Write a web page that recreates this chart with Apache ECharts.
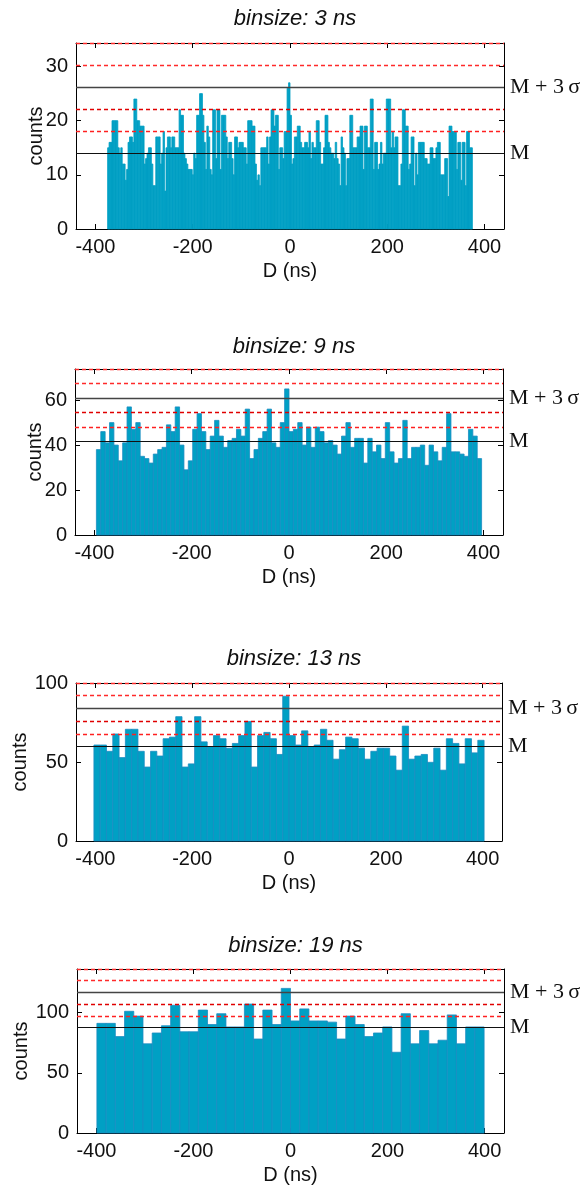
<!DOCTYPE html>
<html>
<head>
<meta charset="utf-8">
<script src="https://cdn.jsdelivr.net/npm/echarts@6/dist/echarts.min.js"></script>
<style>
  html, body { margin: 0; padding: 0; background: #fff; }
  #chart { width: 586px; height: 1187px; }
</style>
</head>
<body>
<div id="chart"></div>
<script>
// ---------------- data ----------------
const titles = ['binsize: 3 ns', 'binsize: 9 ns', 'binsize: 13 ns', 'binsize: 19 ns'];
const binSize = [3, 9, 13, 19];
const binStart = [-375, -396, -403, -399];

const counts3ns = [
  15,16,16,20,20,20,20,15,14,15,12,12,9,11,16,17,17,16,24,24,
  20,20,19,19,19,12,13,14,15,15,12,8,8,17,17,17,12,14,18,7,
  15,17,17,15,17,17,15,15,15,22,21,21,14,13,12,11,11,11,10,14,
  13,21,21,25,25,21,16,11,19,17,11,10,22,22,13,22,22,11,21,21,
  21,17,13,16,16,
  13,10,17,17,15,16,16,16,15,15,12,20,20,20,19,19,12,9,10,8,
  15,15,15,15,17,12,17,22,22,19,21,21,11,15,15,13,18,18,26,27,
  21,12,13,17,17,19,19,16,15,15,16,16,15,18,13,16,15,15,20,20,
  16,12,12,15,21,21,16,15,14,14,13,16,13,12,8,17,15,14,8,13,
  13,21,21,15,15,
  15,17,17,19,19,11,19,19,15,15,24,24,11,16,16,11,12,16,12,14,
  14,24,24,24,15,18,15,17,17,8,8,12,22,22,19,19,11,12,17,17,
  8,14,10,16,16,16,16,13,13,12,12,15,15,13,13,15,16,16,10,10,
  10,13,13,6,19,19,18,18,18,11,16,16,9,16,16,8,18,18,15,15
];
const counts9ns = [
  38,46,41,50,40,33,41,57,47,50,35,34,32,36,38,39,49,46,57,40,
  29,33,47,54,46,38,44,51,44,39,42,43,47,44,56,34,38,43,46,56,
  41,39,50,65,
  46,47,50,40,48,39,48,46,41,42,40,36,44,50,39,43,43,32,43,37,
  40,34,50,37,32,34,51,34,39,39,40,31,40,37,33,39,54,37,37,36,
  35,47,44,34
];
const counts13ns = [
  61,61,57,68,53,71,71,57,47,57,54,65,66,79,47,49,79,63,60,67,
  65,59,62,67,76,47,67,69,65,55,92,
  67,61,70,60,61,71,64,52,58,66,65,59,52,57,59,59,54,45,73,52,
  54,55,50,59,45,65,62,49,65,56,64
];
const counts19ns = [
  91,91,80,101,97,74,83,89,106,84,84,102,90,99,88,88,107,78,102,90,120,
  93,103,93,93,92,78,97,90,80,83,88,67,99,74,85,74,77,98,74,88,88
];
const allCounts = [counts3ns, counts9ns, counts13ns, counts19ns];

// mean M and standard deviation sigma of each histogram
const meanM = [14.0, 41.7, 60.0, 87.6];
const sigma = [4.07, 6.43, 8.08, 9.7];

const xTickValues = [-400, -200, 0, 200, 400];
const yTickValues = [[0, 10, 20, 30], [0, 20, 40, 60], [0, 50, 100], [0, 50, 100]];
const xRange = [-440, 440];

// ---------------- layout / style ----------------
const grids = [
  { left: 76, top: 43, width: 428, height: 186 },
  { left: 75, top: 369, width: 428, height: 166 },
  { left: 76, top: 683, width: 426, height: 158 },
  { left: 77, top: 969, width: 427, height: 164 }
];
const titleTops = [3, 331, 643, 930];
const nameGaps = [30, 30, 46, 46];
const SANS = 'Liberation Sans, Arial, sans-serif';
const SERIF = 'Liberation Serif, Times New Roman, serif';
const barFill = '#00a0c4';
const barStroke = [null, '#1a8cc2', '#1a8cc2', '#1a8cc2'];

const option = {
  animation: false,
  backgroundColor: '#ffffff',
  title: [],
  grid: [],
  xAxis: [],
  yAxis: [],
  series: []
};

for (let k = 0; k < 4; k++) {
  const g = grids[k];
  const ymax = meanM[k] + 5 * sigma[k];
  option.title.push({
    text: titles[k],
    left: g.left + g.width / 2,
    top: titleTops[k],
    textAlign: 'center',
    textStyle: { fontFamily: SANS, fontStyle: 'italic', fontWeight: 'normal', fontSize: 22, color: '#111' }
  });
  option.grid.push({ left: g.left, top: g.top, width: g.width, height: g.height, show: false });

  const lineStyle = { color: '#000', width: 1 };
  option.xAxis.push({
    type: 'value', gridIndex: k, position: 'bottom', min: xRange[0], max: xRange[1],
    axisLine: { show: true, onZero: false, lineStyle },
    axisTick: { show: true, inside: true, length: 5, customValues: xTickValues, lineStyle },
    axisLabel: { show: true, customValues: xTickValues, fontFamily: SANS, fontSize: 20, color: '#111', margin: 8 },
    splitLine: { show: false },
    name: 'D (ns)', nameLocation: 'middle', nameGap: 32, nameMoveOverlap: false,
    nameTextStyle: { fontFamily: SANS, fontSize: 20, color: '#111' }
  });
  option.xAxis.push({
    type: 'value', gridIndex: k, position: 'top', min: xRange[0], max: xRange[1],
    axisLine: { show: true, onZero: false, lineStyle },
    axisTick: { show: true, inside: true, length: 5, customValues: xTickValues, lineStyle },
    axisLabel: { show: false },
    splitLine: { show: false }
  });
  option.yAxis.push({
    type: 'value', gridIndex: k, position: 'left', min: 0, max: ymax,
    axisLine: { show: true, onZero: false, lineStyle },
    axisTick: { show: true, inside: true, length: 5, customValues: yTickValues[k], lineStyle },
    axisLabel: { show: true, customValues: yTickValues[k], fontFamily: SANS, fontSize: 20, color: '#111', margin: 8 },
    splitLine: { show: false },
    name: 'counts', nameLocation: 'middle', nameGap: nameGaps[k], nameRotate: 90, nameMoveOverlap: false,
    nameTextStyle: { fontFamily: SANS, fontSize: 20, color: '#111' }
  });
  option.yAxis.push({
    type: 'value', gridIndex: k, position: 'right', min: 0, max: ymax,
    axisLine: { show: true, onZero: false, lineStyle },
    axisTick: { show: true, inside: true, length: 5, customValues: yTickValues[k], lineStyle },
    axisLabel: { show: false },
    splitLine: { show: false }
  });

  const bs = binSize[k], st = binStart[k];
  const data = allCounts[k].map((c, i) => [st + i * bs, st + (i + 1) * bs, c]);
  const stroke = barStroke[k];
  option.series.push({
    type: 'custom',
    xAxisIndex: 2 * k, yAxisIndex: 2 * k,
    encode: { x: [0, 1], y: 2 },
    data: data,
    renderItem: function (params, api) {
      const p0 = api.coord([api.value(0), api.value(2)]);
      const p1 = api.coord([api.value(1), 0]);
      return {
        type: 'rect',
        shape: { x: p0[0], y: p0[1], width: p1[0] - p0[0], height: p1[1] - p0[1] },
        style: stroke
          ? { fill: barFill, stroke: stroke, lineWidth: 0.8 }
          : { fill: barFill, stroke: barFill, lineWidth: 0.8 }
      };
    },
    z: 2
  });

  const M = meanM[k], s = sigma[k];
  const dashRed = (v, color) => ({
    yAxis: v,
    lineStyle: { color: color, type: [4, 3], width: 1.4 },
    label: { show: false }
  });
  option.series.push({
    type: 'line',
    xAxisIndex: 2 * k, yAxisIndex: 2 * k,
    data: [],
    silent: true,
    z: 5,
    markLine: {
      silent: true,
      symbol: ['none', 'none'],
      animation: false,
      data: [
        dashRed(M + 5 * s, '#ff2a2a'),
        dashRed(M + 4 * s, '#ff2a2a'),
        dashRed(M + 2 * s, '#e00000'),
        dashRed(M + 1 * s, '#ff2020'),
        {
          yAxis: M + 3 * s,
          lineStyle: { color: '#444', type: 'solid', width: 1.3 },
          label: { show: true, position: 'end', formatter: 'M + 3\u2009σ', distance: 6,
                   fontFamily: SERIF, fontSize: 22, color: '#111' }
        },
        {
          yAxis: M,
          lineStyle: { color: '#111', type: 'solid', width: 1.2 },
          label: { show: true, position: 'end', formatter: 'M', distance: 6,
                   fontFamily: SERIF, fontSize: 22, color: '#111' }
        }
      ]
    }
  });
}

const chart = echarts.init(document.getElementById('chart'), null, { renderer: 'canvas' });
chart.setOption(option);
</script>
</body>
</html>
